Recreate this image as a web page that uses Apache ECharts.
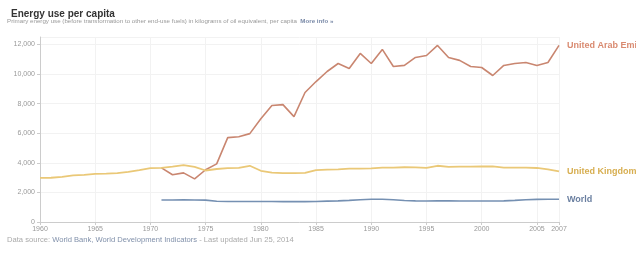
<!DOCTYPE html>
<html>
<head>
<meta charset="utf-8">
<script src="https://cdn.jsdelivr.net/npm/echarts@6/dist/echarts.min.js"></script>
<style>
  html, body { margin: 0; padding: 0; background: #fff; }
  #chart { width: 636px; height: 254px; }
</style>
</head>
<body>
<div id="chart"></div>
<script>
// data (kg of oil equivalent per capita)
var ukYears = [];
for (var y = 1960; y <= 2007; y++) ukYears.push(y);
var ukValues = [2980, 2990, 3050, 3150, 3180, 3250, 3270, 3300, 3380, 3500,
                3640, 3660, 3740, 3840, 3720, 3480, 3580, 3640, 3660, 3800,
                3460, 3340, 3300, 3300, 3320, 3500, 3540, 3560, 3600, 3600,
                3620, 3680, 3680, 3700, 3690, 3660, 3800, 3720, 3740, 3740,
                3750, 3760, 3680, 3680, 3680, 3650, 3560, 3420];

var uaeYears = [];
for (var y = 1971; y <= 2007; y++) uaeYears.push(y);
var uaeValues = [3660, 3190, 3320, 2915, 3530, 3930, 5700, 5760, 5970, 6980,
                 7870, 7930, 7120, 8750, 9490, 10170, 10710, 10370, 11390, 10710,
                 11660, 10510, 10580, 11120, 11250, 11930, 11120, 10920, 10510, 10440,
                 9900, 10580, 10710, 10780, 10580, 10780, 11930];

var worldYears = uaeYears;
var worldValues = [1490, 1490, 1500, 1490, 1480, 1400, 1390, 1390, 1390, 1390,
                   1390, 1380, 1380, 1380, 1390, 1410, 1430, 1460, 1500, 1540,
                   1540, 1500, 1450, 1430, 1420, 1430, 1430, 1420, 1420, 1420,
                   1420, 1430, 1460, 1500, 1530, 1540, 1540];

var yTicks = [0, 2000, 4000, 6000, 8000, 10000, 12000];

function pairs(xs, vs) {
  var out = [];
  for (var i = 0; i < vs.length; i++) out.push([xs[i], vs[i]]);
  return out;
}

var chart = echarts.init(document.getElementById('chart'));

var fontFam = '"Liberation Sans", Arial, sans-serif';

function endLbl(color) {
  return {
    show: true,
    formatter: '{a}',
    color: color,
    fontSize: 9,
    fontWeight: 'bold',
    fontFamily: fontFam,
    distance: 8
  };
}

var option = {
  backgroundColor: '#fff',
  animation: false,
  title: {
    text: 'Energy use per capita',
    left: 6,
    top: 4,
    textStyle: { fontSize: 10, fontWeight: 'bold', color: '#333', fontFamily: fontFam }
  },
  graphic: [
    {
      type: 'text', left: 7, top: 18,
      style: {
        text: 'Primary energy use (before transformation to other end-use fuels) in kilograms of oil equivalent, per capita  {a|More info »}',
        fontSize: 6.2, fill: '#999', fontFamily: fontFam,
        rich: { a: { fontSize: 6.2, fill: '#7a8aa8', fontWeight: 'bold', fontFamily: fontFam } }
      }
    },
    {
      type: 'text', left: 7, top: 236,
      style: {
        text: 'Data source: {a|World Bank, World Development Indicators} - Last updated Jun 25, 2014',
        fontSize: 7.6, fill: '#aaa', fontFamily: fontFam,
        rich: { a: { fontSize: 7.6, fill: '#8090aa', fontFamily: fontFam } }
      }
    }
  ],
  grid: { left: 40, right: 77, top: 37, bottom: 32 },
  xAxis: {
    type: 'value',
    min: 1960,
    max: 2007,
    interval: 5,
    axisLine: { lineStyle: { color: '#ccc' } },
    axisTick: { show: true, length: 3, lineStyle: { color: '#ccc' } },
    splitLine: { show: true, lineStyle: { color: '#f2f2f2' } },
    axisLabel: {
      color: '#999', fontSize: 7, fontFamily: fontFam, margin: 4,
      formatter: function (v) { return String(v); }
    }
  },
  yAxis: {
    type: 'value',
    min: yTicks[0],
    max: 12500,
    interval: 2000,
    axisLine: { show: true, lineStyle: { color: '#ccc' } },
    axisTick: { show: true, length: 3, lineStyle: { color: '#ccc' } },
    splitLine: { show: true, lineStyle: { color: '#f2f2f2' } },
    axisLabel: {
      color: '#999', fontSize: 7, fontFamily: fontFam, margin: 5,
      showMaxLabel: false,
      formatter: function (v) { return yTicks.indexOf(v) >= 0 ? v.toLocaleString('en-US') : ''; }
    }
  },
  series: [
    {
      name: 'United Arab Emirates',
      type: 'line',
      data: pairs(uaeYears, uaeValues),
      symbol: 'none',
      lineStyle: { color: '#c98670', width: 1.6 },
      itemStyle: { color: '#c98670' },
      endLabel: endLbl('#d98a70')
    },
    {
      name: 'United Kingdom',
      type: 'line',
      data: pairs(ukYears, ukValues),
      symbol: 'none',
      lineStyle: { color: '#eac877', width: 1.8 },
      itemStyle: { color: '#eac877' },
      endLabel: endLbl('#d7ae50')
    },
    {
      name: 'World',
      type: 'line',
      data: pairs(worldYears, worldValues),
      symbol: 'none',
      lineStyle: { color: '#7590b2', width: 1.6 },
      itemStyle: { color: '#7590b2' },
      endLabel: endLbl('#6a7fa0')
    }
  ]
};

chart.setOption(option);
</script>
</body>
</html>
